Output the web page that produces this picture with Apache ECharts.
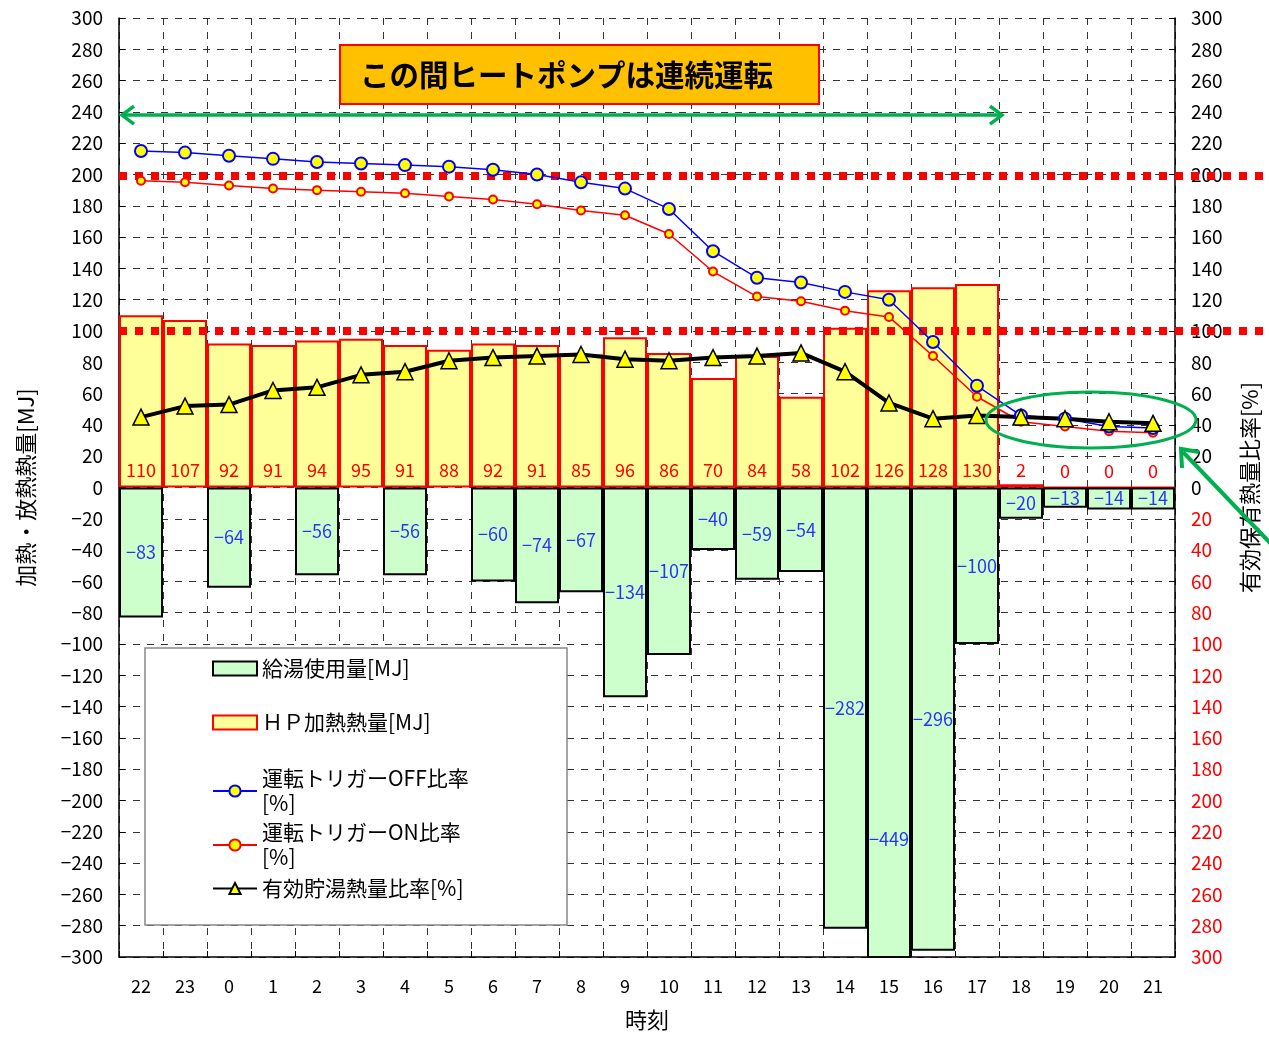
<!DOCTYPE html>
<html><head><meta charset="utf-8">
<script src="https://cdn.jsdelivr.net/npm/echarts@6/dist/echarts.min.js"></script>
<style>html,body{margin:0;padding:0;background:#fff}#c{width:1269px;height:1038px}</style>
</head><body><div id="c"></div>
<script>
const categories = ['22','23','0','1','2','3','4','5','6','7','8','9','10','11','12','13','14','15','16','17','18','19','20','21'];
const hpHeat = [110,107,92,91,94,95,91,88,92,91,85,96,86,70,84,58,102,126,128,130,2,0,0,0];
const hotWaterUse = [-83,null,-64,null,-56,null,-56,null,-60,-74,-67,-134,-107,-40,-59,-54,-282,-449,-296,-100,-20,-13,-14,-14];
const offRatio = [215,214,212,210,208,207,206,205,203,200,195,191,178,151,134,131,125,120,93,65,46,44,39,38];
const onRatio = [196,195,193,191,190,189,188,186,184,181,177,174,162,138,122,119,113,109,84,58,42,39,36,35];
const storedRatio = [45,52,53,62,64,72,74,81,83,84,85,82,81,83,84,86,74,54,44,46,45,44,42,41];
const refLevels = [199, 100];
const arrowLevel = 238;
const yMin = -300, yMax = 300, yStep = 20;

const names = ['給湯使用量[MJ]','ＨＰ加熱熱量[MJ]','運転トリガーOFF比率[%]','運転トリガーON比率[%]','有効貯湯熱量比率[%]'];
const FONT = '"Noto Sans CJK JP", "Noto Sans", sans-serif';
const legendTops = [651, 705, 761, 815, 871];

const chart = echarts.init(document.getElementById('c'), null, {renderer:'canvas'});
const minus = v => String(v).replace('-', '−');

const option = {
  animation: false,
  textStyle: {fontFamily: FONT},
  grid: {left: 119, right: 94, top: 18, bottom: 81, containLabel: false, outerBoundsMode: 'none'},
  legend: names.map((n, i) => ({
    data: [i < 2 ? {name: n, icon: 'rect'} : n], left: 207, top: legendTops[i], itemWidth: 44, itemHeight: 14, itemGap: 8,
    selectedMode: false, z: 7, orient: 'vertical',
    formatter: nm => nm.replace(/(比率)\[%\]$/, i === 2 || i === 3 ? '$1\n[%]' : '$1[%]'),
    textStyle: {fontSize: 21, lineHeight: 25, color: '#000', fontFamily: FONT}
  })),
  xAxis: {
    type: 'category', data: categories, boundaryGap: true,
    name: '時刻', nameLocation: 'middle', nameGap: 52,
    nameTextStyle: {fontSize: 22, color: '#000'},
    axisLine: {onZero: false, lineStyle: {color: '#000', width: 1.5}},
    axisTick: {show: true, inside: true, length: 6, interval: 0, lineStyle: {color: '#000'}},
    axisLabel: {fontSize: 18, color: '#000', margin: 20, interval: 0},
    splitLine: {show: true, interval: 0, lineStyle: {color: '#333', type: [7, 7], width: 1}}
  },
  yAxis: [
    {
      type: 'value', min: yMin, max: yMax, interval: yStep, position: 'left',
      name: '加熱・放熱熱量[MJ]', nameLocation: 'middle', nameGap: 82, nameRotate: 90,
      nameTextStyle: {fontSize: 22, color: '#000'},
      axisLine: {show: true, lineStyle: {color: '#000', width: 1.5}},
      axisTick: {show: true, inside: true, length: 6, lineStyle: {color: '#000'}},
      axisLabel: {fontSize: 19, color: '#000', margin: 16, formatter: v => minus(v)},
      splitLine: {show: true, lineStyle: {color: '#333', type: [7, 7], width: 1}}
    },
    {
      type: 'value', min: yMin, max: yMax, interval: yStep, position: 'right',
      name: '有効保有熱量比率[%]', nameLocation: 'middle', nameGap: 64, nameRotate: 90,
      nameTextStyle: {fontSize: 22, color: '#000'},
      axisLine: {show: true, lineStyle: {color: '#000', width: 1.5}},
      axisTick: {show: true, inside: true, length: 6, lineStyle: {color: '#000'}},
      axisLabel: {fontSize: 19, margin: 16, formatter: v => String(Math.abs(v)),
        color: v => (v < 0 ? '#ff0000' : '#000')},
      splitLine: {show: false}
    }
  ],
  series: [
    {
      name: names[1], type: 'bar', data: hpHeat, barWidth: '100%', barGap: '-100%', z: 2,
      itemStyle: {color: '#ffff99', borderColor: '#ff0000', borderWidth: 2},
      label: {show: true, position: 'insideBottom', distance: 8, color: '#ff0000', fontSize: 18}
    },
    {
      name: names[0], type: 'bar', data: hotWaterUse, barWidth: '100%', barGap: '-100%', z: 2,
      itemStyle: {color: '#ccffcc', borderColor: '#000', borderWidth: 2}
    },
    {
      name: 'usageLabels', type: 'scatter', silent: true, z: 3, symbolSize: 0,
      data: hotWaterUse.map(v => (v == null ? null : v / 2)),
      label: {show: true, position: 'inside', color: '#0000ff', fontSize: 18,
        formatter: p => minus(hotWaterUse[p.dataIndex])}
    },
    {
      name: names[3], type: 'line', data: onRatio, z: 5, clip: false,
      symbol: 'circle', symbolSize: 8,
      lineStyle: {color: '#ff0000', width: 1.5},
      itemStyle: {color: '#ffff00', borderColor: '#ff0000', borderWidth: 2}
    },
    {
      name: names[2], type: 'line', data: offRatio, z: 5, clip: false,
      symbol: 'circle', symbolSize: 12,
      lineStyle: {color: '#0000ff', width: 1.5},
      itemStyle: {color: '#ffff00', borderColor: '#0000ff', borderWidth: 2}
    },
    {
      name: names[4], type: 'line', data: storedRatio, z: 5, clip: false,
      symbol: 'triangle', symbolSize: 16,
      lineStyle: {color: '#000', width: 4},
      itemStyle: {color: '#ffff00', borderColor: '#000', borderWidth: 1.5}
    }
  ]
};
chart.setOption(option);

// annotations positioned through the chart's own scales
const yPx = v => chart.convertToPixel({yAxisIndex: 0}, v);
const xPx = i => chart.convertToPixel({xAxisIndex: 0}, i);
const band = xPx(1) - xPx(0);
const gridLeft = xPx(0) - band / 2;
const GREEN = '#00b050';
const graphics = [];

refLevels.forEach(v => {
  const y = yPx(v);
  graphics.push({type: 'line', z: 3, silent: true,
    shape: {x1: gridLeft, y1: y, x2: 1269, y2: y},
    style: {stroke: '#ff0000', lineWidth: 8, lineDash: [8, 8], lineCap: 'butt'}});
});

// double arrow over the continuous-run period (22h .. 17h)
const ay = yPx(arrowLevel);
const ax1 = gridLeft + 3;
const ax2 = xPx(19) + band / 2 + 3;
graphics.push({type: 'line', z: 8, silent: true, shape: {x1: ax1, y1: ay, x2: ax2, y2: ay},
  style: {stroke: GREEN, lineWidth: 3.5}});
graphics.push({type: 'polyline', z: 8, silent: true,
  shape: {points: [[ax1 + 12, ay - 9], [ax1, ay], [ax1 + 12, ay + 9]]},
  style: {stroke: GREEN, lineWidth: 3.5, fill: null}});
graphics.push({type: 'polyline', z: 8, silent: true,
  shape: {points: [[ax2 - 12, ay - 9], [ax2, ay], [ax2 - 12, ay + 9]]},
  style: {stroke: GREEN, lineWidth: 3.5, fill: null}});

// title box
graphics.push({type: 'rect', z: 8, silent: true,
  shape: {x: 340, y: 45, width: 479, height: 59},
  style: {fill: '#ffc000', stroke: '#ff0000', lineWidth: 2}});
graphics.push({type: 'text', z: 9, silent: true, x: 360, y: 75,
  style: {text: 'この間ヒートポンプは連続運転', fill: '#000', font: 'bold 29.5px ' + FONT,
    textVerticalAlign: 'middle', verticalAlign: 'middle'}});

// legend frame
graphics.push({type: 'rect', z: 6, silent: true,
  shape: {x: 145, y: 648, width: 422, height: 277},
  style: {fill: '#fff', stroke: '#888', lineWidth: 1.5}});

// highlight ellipse and pointer arrow
graphics.push({type: 'ellipse', z: 8, silent: true,
  shape: {cx: 1091, cy: 420, rx: 105, ry: 28},
  style: {fill: null, stroke: GREEN, lineWidth: 3}});
graphics.push({type: 'line', z: 8, silent: true,
  shape: {x1: 1275, y1: 548, x2: 1183, y2: 452},
  style: {stroke: GREEN, lineWidth: 4}});
graphics.push({type: 'polyline', z: 8, silent: true,
  shape: {points: [[1182, 468], [1181, 449], [1199, 452]]},
  style: {stroke: GREEN, lineWidth: 4, fill: null}});

chart.setOption({graphic: {elements: graphics}});
</script>
</body></html>
